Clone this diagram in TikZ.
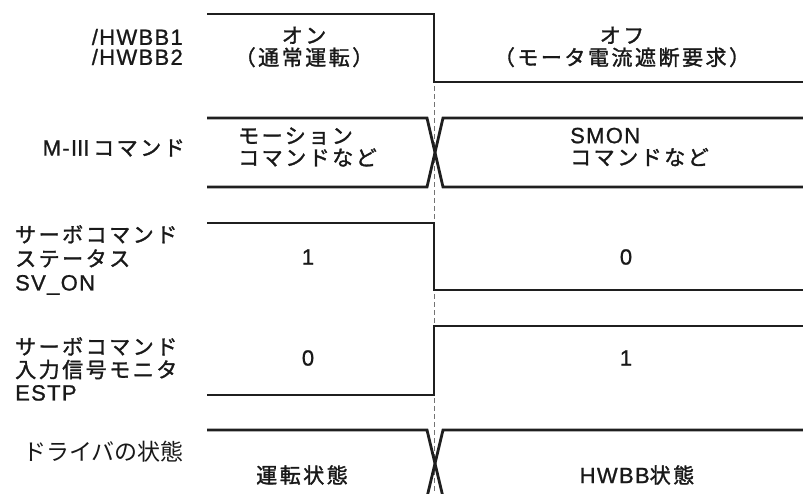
\documentclass[tikz,border=0pt]{standalone}
\usepackage{fontspec}
\setmainfont{Noto Sans CJK JP}[LetterSpace=12, FakeBold=1.5]
\newfontfamily\latfont{Liberation Sans}[LetterSpace=6, FakeBold=1]
\newfontfamily\thinfont{Noto Sans CJK JP}
\newcommand\lat[1]{{\latfont\fontsize{22}{22}\selectfont #1}}
\usetikzlibrary{positioning}

\begin{document}
\begin{tikzpicture}[x=1pt, y=-1pt,
    sigline/.style={line width=2.8pt, draw=black!88, line join=miter},
    guide/.style={line width=1pt, draw=black!55, dash pattern=on 5pt off 3pt},
    txt/.style={inner sep=0pt, text=black!90, font=\fontsize{21}{22}\selectfont}]

  \useasboundingbox (0, 0) rectangle (803, 493);

  \node[txt, anchor=east, align=right, font=\latfont\fontsize{22}{20}\selectfont]
    (hwbbName) at (183, 47) {/HWBB1\\/HWBB2};
  \node[txt, align=center] (hwbbOn)  at (304, 47) {オン\\（通常運転）};
  \node[txt, align=center] (hwbbOff) at (622, 47) {オフ\\（モータ電流遮断要求）};

  \node[txt, anchor=east] (cmdName) at (185, 148) {\lat{M-}Ⅲコマンド};
  \node[txt, anchor=west, align=left] (cmdMotion) at (238, 147) {モーション\\コマンドなど};
  \node[txt, anchor=west, align=left] (cmdSmon)   at (570, 147) {\lat{SMON}\\コマンドなど};

  \node[txt, anchor=west, align=left, font=\fontsize{21}{24}\selectfont]
    (svName) at (15, 260) {サーボコマンド\\ステータス\\\lat{SV\_ON}};
  \node[txt] (svHigh) at (308, 257) {\lat{1}};
  \node[txt] (svLow)  at (626, 257) {\lat{0}};

  \node[txt, anchor=west, align=left, font=\fontsize{21}{23}\selectfont]
    (estpName) at (15, 369) {サーボコマンド\\入力信号モニタ\\\lat{ESTP}};
  \node[txt] (estpLow)  at (308, 358) {\lat{0}};
  \node[txt] (estpHigh) at (626, 358) {\lat{1}};

  \node[txt, anchor=west, font=\thinfont\fontsize{23}{22}\selectfont]
    (drvName) at (23, 452) {ドライバの状態};
  \node[txt] (drvRun)  at (302, 475) {運転状態};
  \node[txt] (drvHwbb) at (637, 475) {\lat{HWBB}状態};

  % timing edge
  \draw[guide] (434, 86) -- (434, 493);

  \draw[sigline] (207, 14) -- (434, 14) -- (434, 82) -- (803, 82);

  \draw[sigline] (207, 118) -- (427, 118) -- (443, 187) -- (803, 187);
  \draw[sigline] (207, 187) -- (427, 187) -- (443, 118) -- (803, 118);

  \draw[sigline] (207, 223) -- (434, 223) -- (434, 290) -- (803, 290);

  \draw[sigline] (207, 395) -- (434, 395) -- (434, 326) -- (803, 326);

  \begin{scope}
    \clip (0, 0) rectangle (803, 493);
    \draw[sigline] (207, 430) -- (427, 430) -- (443, 497) -- (803, 497);
    \draw[sigline] (207, 497) -- (427, 497) -- (443, 430) -- (803, 430);
  \end{scope}

\end{tikzpicture}
\end{document}
